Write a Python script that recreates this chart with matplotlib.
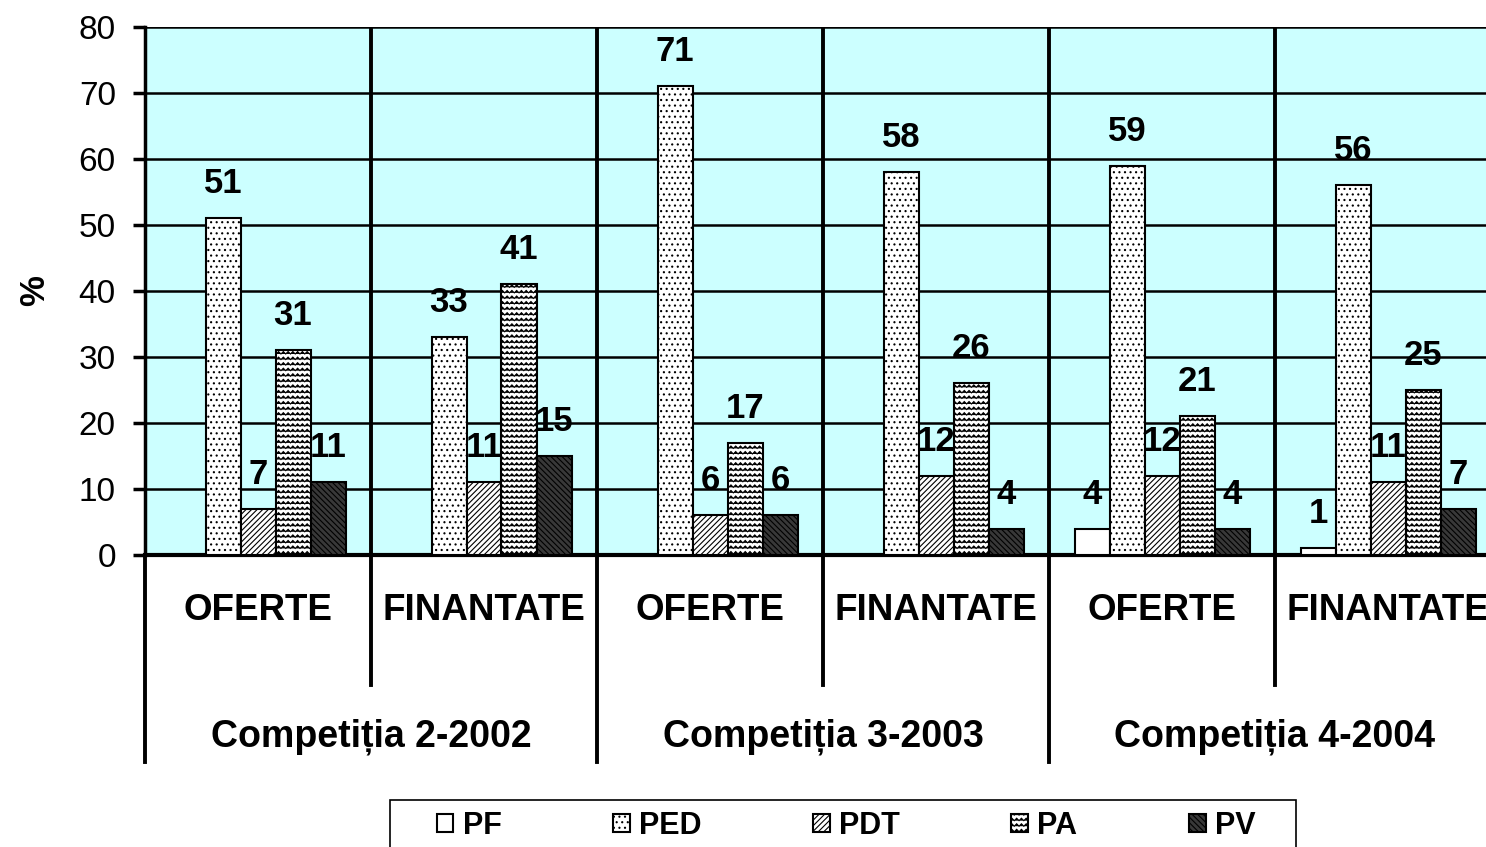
import numpy as np
import matplotlib
matplotlib.use('Agg')
from matplotlib import pyplot as plt
from matplotlib import hatch as mhatch
from matplotlib.path import Path
from matplotlib.lines import Line2D
from matplotlib.patches import Rectangle

plt.rcParams['font.family'] = ['Liberation Sans', 'DejaVu Sans']
plt.rcParams['hatch.linewidth'] = 0.8

sub_labels = ['OFERTE', 'FINANTATE', 'OFERTE', 'FINANTATE', 'OFERTE', 'FINANTATE']
group_labels = ['Competiția 2-2002', 'Competiția 3-2003', 'Competiția 4-2004']
series_names = ['PF', 'PED', 'PDT', 'PA', 'PV']
pf = [None, None, None, None, 4, 1]
ped = [51, 33, 71, 58, 59, 56]
pdt = [7, 11, 6, 12, 12, 11]
pa = [31, 41, 17, 26, 21, 25]
pv = [11, 15, 6, 4, 4, 7]
y_ticks = [0, 10, 20, 30, 40, 50, 60, 70, 80]


class ZigzagHatch(mhatch.HatchPatternBase):
    """Wavy horizontal rows, drawn for the letter 'z'."""
    def __init__(self, hatch, density):
        n = hatch.count('z')
        self.num_lines = int(n * density)
        self.num_pts = 2 * int(n * density * 1.2) + 1 if n else 0
        self.num_vertices = self.num_lines * self.num_pts

    def set_vertices_and_codes(self, vertices, codes):
        n = self.num_lines
        steps = np.linspace(0.0, 1.0, n, endpoint=False) + 0.5 / n
        xs = np.linspace(0.0, 1.0, self.num_pts)
        amp = 0.22 / n
        k = 0
        for y in steps:
            for j, x in enumerate(xs):
                vertices[k, 0] = x
                vertices[k, 1] = y + (amp if j % 2 else -amp)
                codes[k] = Path.MOVETO if j == 0 else Path.LINETO
                k += 1


mhatch._hatch_types.append(ZigzagHatch)
mhatch._validate_hatch_pattern = lambda h: None

fig = plt.figure(figsize=(14.86, 8.47), dpi=100)
W, H = 1486, 847
left, right, top, bottom = 145, 1501, 27, 555
ax = fig.add_axes([left / W, 1 - bottom / H, (right - left) / W, (bottom - top) / H])
ax.set_facecolor('#CCFFFF')

styles = [
    dict(color='white', hatch=None),
    dict(color='white', hatch='...'),
    dict(color='white', hatch='//////'),
    dict(color='white', hatch='zzz'),
    dict(color='#383838', hatch='\\' * 6),
]
data = [pf, ped, pdt, pa, pv]

x = np.arange(len(sub_labels)) + 0.5
bw = 35 / 226

for i, (name, vals, st) in enumerate(zip(series_names, data, styles)):
    xs = x + (i - 2) * bw
    v = np.array([np.nan if d is None else d for d in vals], dtype=float)
    ax.bar(xs, v, bw, label=name, facecolor=st['color'], edgecolor='black',
           linewidth=1.5, hatch=st['hatch'], zorder=3)
    for xi, vi in zip(xs, v):
        if np.isnan(vi):
            continue
        ax.annotate(f'{int(vi)}', (xi, vi), xytext=(0, 18), textcoords='offset points',
                    ha='center', va='baseline', fontsize=25, fontweight='bold', zorder=5)

ax.set_xlim(0, 6)
ax.set_ylim(0, 80)
ax.set_yticks(y_ticks)
ax.tick_params(axis='y', labelsize=24, length=9, width=2.5, direction='out', pad=12)
ax.set_xticks([])
ax.set_ylabel('%', fontsize=25, fontweight='bold', labelpad=20)
ax.yaxis.grid(True, color='black', linewidth=1.8, zorder=1)
ax.set_axisbelow(True)
for b in range(1, 6):
    ax.axvline(b, color='black', linewidth=2.8, zorder=2)

for s in ['top', 'right']:
    ax.spines[s].set_visible(False)
ax.spines['left'].set_linewidth(2.5)
ax.spines['bottom'].set_linewidth(3)

tr = ax.get_xaxis_transform()
y_sub = (bottom - 685) / (bottom - top)
y_grp = (bottom - 762) / (bottom - top)
for b in range(0, 6):
    yb = y_grp if b % 2 == 0 else y_sub
    ax.add_line(Line2D([b, b], [0, yb], transform=tr, color='black', linewidth=2.8, clip_on=False))

for xi, lab in zip(x, sub_labels):
    ax.text(xi, (bottom - 611) / (bottom - top), lab, transform=tr, ha='center', va='center',
            fontsize=26.5, fontweight='bold')
for gi, lab in enumerate(group_labels):
    ax.text(2 * gi + 1, (bottom - 737) / (bottom - top), lab, transform=tr, ha='center', va='center',
            fontsize=27, fontweight='bold')

# legend frame (runs off the bottom edge of the figure)
fig.patches.append(Rectangle((390 / W, -0.05), 906 / W, 0.05 + 1 - 800 / H, transform=fig.transFigure,
                             facecolor='white', edgecolor='black', linewidth=1.2))
fig.legend(loc='center', bbox_to_anchor=(846 / W, 1 - 826 / H), ncol=5, frameon=False,
           prop={'size': 22, 'weight': 'bold'}, handlelength=0.55, handleheight=0.55,
           handletextpad=0.3, columnspacing=3.65, borderaxespad=0, borderpad=0)

fig.savefig('out.png', dpi=100)
